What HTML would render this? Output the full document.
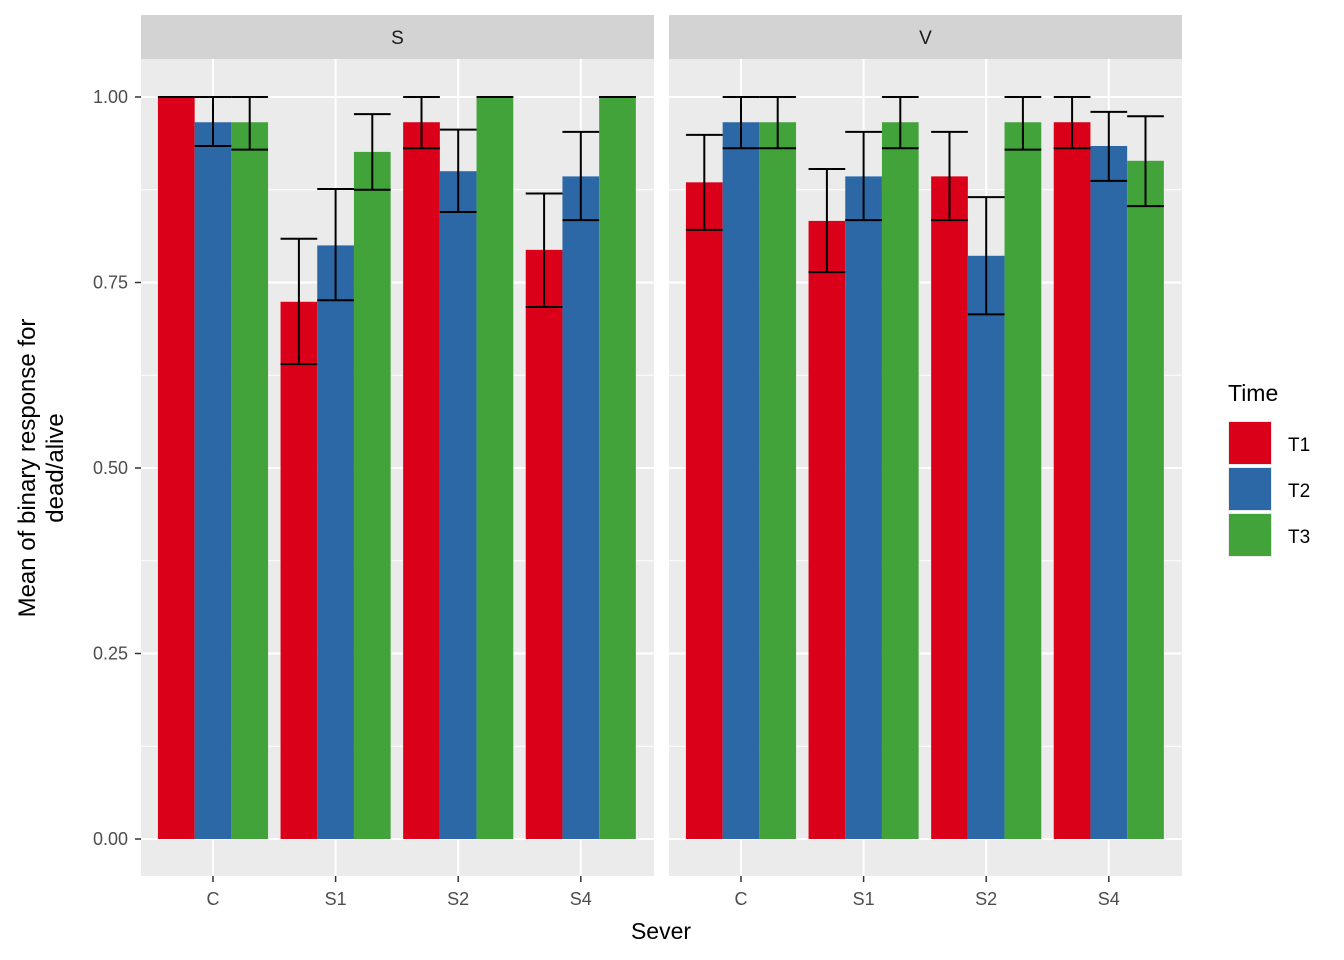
<!DOCTYPE html>
<html><head><meta charset="utf-8"><style>
body{margin:0;background:#fff}
svg{display:block;font-family:"Liberation Sans",Arial,sans-serif}
</style></head><body>
<svg id="chart" width="1344" height="960"></svg>
<script>
const categories=["C","S1","S2","S4"];
const panels=["S","V"];
const series=["T1","T2","T3"];
const colors=["#DA001A","#2C68A6","#41A33A"];
const meanS_T1=[1.0,0.724,0.966,0.794];
const meanS_T2=[0.966,0.8,0.9,0.893];
const meanS_T3=[0.966,0.926,1.0,1.0];
const meanV_T1=[0.885,0.833,0.893,0.966];
const meanV_T2=[0.966,0.893,0.786,0.934];
const meanV_T3=[0.966,0.966,0.966,0.914];
const loS_T1=[1.0,0.640,0.931,0.717],hiS_T1=[1.0,0.809,1.0,0.870];
const loS_T2=[0.934,0.726,0.845,0.834],hiS_T2=[1.0,0.876,0.956,0.953];
const loS_T3=[0.929,0.875,1.0,1.0],hiS_T3=[1.0,0.977,1.0,1.0];
const loV_T1=[0.821,0.764,0.834,0.931],hiV_T1=[0.949,0.903,0.953,1.0];
const loV_T2=[0.931,0.834,0.707,0.887],hiV_T2=[1.0,0.953,0.865,0.980];
const loV_T3=[0.931,0.931,0.929,0.853],hiV_T3=[1.0,1.0,1.0,0.974];
const yTicks=[0,0.25,0.5,0.75,1.0];
const yTickLabels=["0.00","0.25","0.50","0.75","1.00"];

const means={S:[meanS_T1,meanS_T2,meanS_T3],V:[meanV_T1,meanV_T2,meanV_T3]};
const los={S:[loS_T1,loS_T2,loS_T3],V:[loV_T1,loV_T2,loV_T3]};
const his={S:[hiS_T1,hiS_T2,hiS_T3],V:[hiV_T1,hiV_T2,hiV_T3]};
const NS="http://www.w3.org/2000/svg";
const svg=document.getElementById('chart');
function mk(t,a,p){const e=document.createElementNS(NS,t);for(const k in a)e.setAttribute(k,a[k]);(p||svg).appendChild(e);return e;}
const plotTop=59,plotBot=876;
const y=v=>839-v*742;
const panelX=[141,669],panelW=513;
const x=(pi,ci)=>panelX[pi]+72+ci*122.6;
const bw=36.7;
panels.forEach((p,pi)=>{
  const g=mk('g',{});
  
  
  const bg=mk('rect',{x:panelX[pi],y:plotTop,width:panelW,height:plotBot-plotTop,fill:'#EBEBEB'},g);
  
  
  yTicks.forEach((t,i)=>{
    if(i<yTicks.length-1){const m=(t+yTicks[i+1])/2;mk('line',{x1:panelX[pi],x2:panelX[pi]+panelW,y1:y(m),y2:y(m),stroke:'#fff','stroke-width':1},g);}
    mk('line',{x1:panelX[pi],x2:panelX[pi]+panelW,y1:y(t),y2:y(t),stroke:'#fff','stroke-width':2},g);
  });
  categories.forEach((c,ci)=>mk('line',{x1:x(pi,ci),x2:x(pi,ci),y1:plotTop,y2:plotBot,stroke:'#fff','stroke-width':2},g));
  const st=mk('rect',{x:panelX[pi],y:15,width:panelW,height:44,fill:'#D3D3D3'},g);
  
  
  const stt=mk('text',{x:panelX[pi]+panelW/2,y:44,'text-anchor':'middle','font-size':19,fill:'#1a1a1a'},g);stt.textContent=p;
  
  
  categories.forEach((c,ci)=>{
    series.forEach((s,si)=>{
      const v=means[p][si][ci];const bx=x(pi,ci)+(si-1.5)*bw;
      const r=mk('rect',{x:bx,y:y(v),width:bw,height:y(0)-y(v),fill:colors[si]},g);
      
      
    });
  });
  categories.forEach((c,ci)=>{
    series.forEach((s,si)=>{
      const lo=los[p][si][ci],hi=his[p][si][ci];const bx=x(pi,ci)+(si-1.5)*bw;const cx=bx+bw/2;
      const eg=mk('g',{stroke:'#000','stroke-width':2},g);
      
      
      mk('line',{x1:bx,x2:bx+bw,y1:y(hi),y2:y(hi)},eg);
      mk('line',{x1:bx,x2:bx+bw,y1:y(lo),y2:y(lo)},eg);
      mk('line',{x1:cx,x2:cx,y1:y(hi),y2:y(lo)},eg);
    });
    mk('line',{x1:x(pi,ci),x2:x(pi,ci),y1:plotBot,y2:plotBot+6,stroke:'#333','stroke-width':1.5},g);
    const tl=mk('text',{x:x(pi,ci),y:905,'text-anchor':'middle','font-size':18,fill:'#4D4D4D'},g);tl.textContent=c;
    
    
  });
});
yTicks.forEach((t,i)=>{
  mk('line',{x1:135,x2:141,y1:y(t),y2:y(t),stroke:'#333','stroke-width':1.5});
  const tl=mk('text',{x:128,y:y(t)+6,'text-anchor':'end','font-size':18,fill:'#4D4D4D'});tl.textContent=yTickLabels[i];
  
  
});
const xt=mk('text',{x:661,y:939,'text-anchor':'middle','font-size':23,fill:'#000'});xt.textContent='Sever';


const yt=mk('text',{transform:'translate(0,468) rotate(-90)','text-anchor':'middle','font-size':24,fill:'#000'});


const t1=mk('tspan',{x:0,y:35},yt);t1.textContent='Mean of binary response for';
const t2=mk('tspan',{x:0,y:63},yt);t2.textContent='dead/alive';
const lt=mk('text',{x:1228,y:401,'font-size':23,fill:'#000'});lt.textContent='Time';


series.forEach((s,si)=>{
  const g=mk('g',{});
  
  
  mk('rect',{x:1228,y:421+si*46,width:44,height:44,fill:'#EBEBEB'},g);
  mk('rect',{x:1229,y:422+si*46,width:42,height:42,fill:colors[si]},g);
  const tx=mk('text',{x:1288,y:451+si*46,'font-size':19,fill:'#000'},g);tx.textContent=s;
});
</script>
</body></html>
